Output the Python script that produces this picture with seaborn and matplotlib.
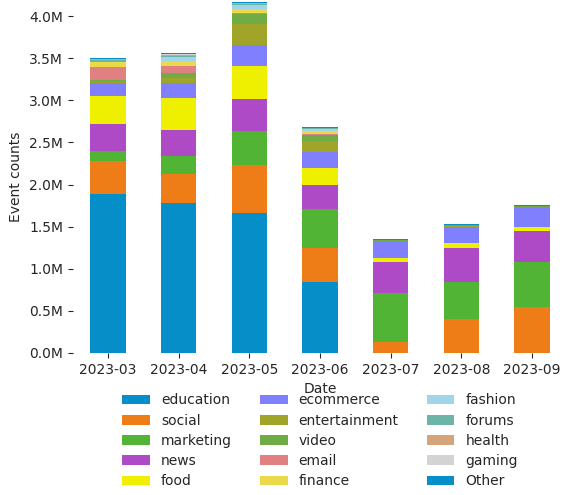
import numpy as np
import pandas as pd
import matplotlib
matplotlib.use("Agg")
import matplotlib.pyplot as plt
import seaborn as sns
from matplotlib.ticker import FuncFormatter

# months on the x axis
dates = ["2023-03", "2023-04", "2023-05", "2023-06", "2023-07", "2023-08", "2023-09"]

# event counts per category, in millions
education     = [1.89, 1.78, 1.66, 0.84, 0.00, 0.00, 0.00]
social        = [0.39, 0.35, 0.57, 0.41, 0.13, 0.40, 0.55]
marketing     = [0.12, 0.21, 0.40, 0.46, 0.58, 0.44, 0.53]
news          = [0.32, 0.31, 0.38, 0.28, 0.37, 0.41, 0.37]
food          = [0.33, 0.38, 0.40, 0.21, 0.05, 0.06, 0.05]
ecommerce     = [0.15, 0.17, 0.24, 0.19, 0.20, 0.19, 0.22]
entertainment = [0.02, 0.07, 0.26, 0.13, 0.005, 0.005, 0.005]
video         = [0.02, 0.05, 0.11, 0.07, 0.01, 0.02, 0.02]
email         = [0.15, 0.09, 0.02, 0.01, 0.0, 0.0, 0.0]
finance       = [0.06, 0.06, 0.04, 0.03, 0.0, 0.0, 0.0]
fashion       = [0.01, 0.04, 0.05, 0.03, 0.0, 0.0, 0.0]
forums        = [0.02, 0.02, 0.015, 0.005, 0.0, 0.0, 0.0]
health        = [0.005, 0.005, 0.01, 0.005, 0.0, 0.0, 0.0]
gaming        = [0.01, 0.01, 0.005, 0.005, 0.0, 0.0, 0.0]
other         = [0.01, 0.01, 0.01, 0.01, 0.01, 0.01, 0.01]

categories = ["education", "social", "marketing", "news", "food", "ecommerce",
              "entertainment", "video", "email", "finance", "fashion", "forums",
              "health", "gaming", "Other"]
series = [education, social, marketing, news, food, ecommerce, entertainment,
          video, email, finance, fashion, forums, health, gaming, other]
colors = ["#058ec8", "#ee7d17", "#52b434", "#ae4ac5", "#eef000", "#8080ff",
          "#a0a428", "#6fac46", "#e08080", "#eada4a", "#a0d4e8", "#6ab4a8",
          "#d4a57a", "#d3d3d3", "#058ec8"]

sns.set_style("ticks")

fig = plt.figure(figsize=(5.62, 4.95), dpi=100)
ax = fig.add_axes([72.7 / 562, 142 / 495, 494.7 / 562, 353 / 495])

bottom = np.zeros(len(dates))
for cat, vals, col in zip(categories, series, colors):
    v = np.array(vals) * 1e6
    sns.barplot(x=dates, y=v, bottom=bottom, color=col, width=0.5,
                saturation=1, errorbar=None, linewidth=0, label=cat, ax=ax)
    bottom = bottom + v

ax.set_xlim(-0.5, 6.5)
ax.set_ylim(0, 4.19e6)
ax.set_yticks(np.arange(0, 4.01e6, 0.5e6))
ax.yaxis.set_major_formatter(FuncFormatter(lambda x, p: f"{x / 1e6:.1f}M"))
ax.set_xlabel("Date")
ax.set_ylabel("Event counts")
sns.despine(ax=ax, left=True, bottom=True)

ax.legend(loc="upper center", bbox_to_anchor=(0.5, -0.079), ncol=3,
          frameon=False, fontsize=10, labelspacing=0.45)

plt.savefig("out.png", dpi=100)
